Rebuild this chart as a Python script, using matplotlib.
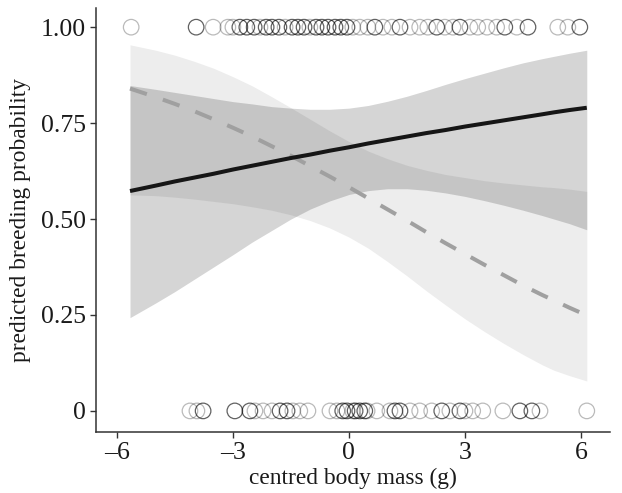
import matplotlib
matplotlib.use("Agg")
import matplotlib.pyplot as plt

# ---- data ----
grid_x = [-5.66, -5.0, -4.5, -4.0, -3.5, -3.0, -2.5, -2.0, -1.5, -1.0, -0.5, 0.0, 0.5,
          1.0, 1.5, 2.0, 2.5, 3.0, 3.5, 4.0, 4.5, 5.0, 5.3, 5.7, 6.15]

solid_fit = [0.573, 0.587, 0.598, 0.608, 0.618, 0.629, 0.639, 0.649, 0.659, 0.668, 0.678, 0.687, 0.697,
             0.706, 0.715, 0.724, 0.732, 0.741, 0.749, 0.757, 0.765, 0.773, 0.778, 0.784, 0.790]
solid_lo = [0.243, 0.281, 0.311, 0.343, 0.375, 0.407, 0.440, 0.470, 0.500, 0.526, 0.547, 0.564, 0.574,
            0.579, 0.579, 0.575, 0.568, 0.559, 0.548, 0.536, 0.523, 0.509, 0.500, 0.488, 0.472]
solid_hi = [0.848, 0.838, 0.830, 0.822, 0.814, 0.806, 0.800, 0.793, 0.789, 0.786, 0.786, 0.789, 0.796,
            0.807, 0.820, 0.835, 0.851, 0.866, 0.880, 0.894, 0.907, 0.918, 0.924, 0.932, 0.940]

dashed_fit = [0.840, 0.818, 0.800, 0.781, 0.760, 0.738, 0.715, 0.690, 0.665, 0.638, 0.611, 0.583, 0.554,
              0.525, 0.496, 0.466, 0.437, 0.409, 0.381, 0.354, 0.327, 0.302, 0.288, 0.269, 0.249]
dashed_lo = [0.563, 0.561, 0.557, 0.552, 0.546, 0.540, 0.532, 0.523, 0.511, 0.496, 0.477, 0.453, 0.424,
             0.389, 0.352, 0.313, 0.276, 0.240, 0.207, 0.176, 0.147, 0.120, 0.106, 0.092, 0.078]
dashed_hi = [0.954, 0.940, 0.927, 0.911, 0.893, 0.871, 0.847, 0.819, 0.790, 0.760, 0.730, 0.702, 0.677,
             0.657, 0.640, 0.627, 0.616, 0.608, 0.600, 0.594, 0.589, 0.584, 0.582, 0.578, 0.572]

top_dark = [-3.95, -2.82, -2.64, -2.45, -2.14, -1.99, -1.81, -1.47, -1.32, -1.16, -0.85, -0.70,
            -0.54, -0.36, -0.21, -0.05, 0.67, 1.32, 2.27, 2.87, 4.03, 4.63, 5.97]
top_light = [-5.63, -3.51, -3.13, -3.00, -2.30, -1.65, -1.01, 0.10, 0.28, 0.49, 0.88, 1.11,
             1.58, 1.83, 2.04, 2.48, 2.69, 3.13, 3.33, 3.57, 3.82, 4.34, 5.40, 5.66]
bot_dark = [-3.77, -2.95, -2.56, -1.78, -1.60, -0.16, -0.05, 0.16, 0.28, 0.41, 1.19, 1.32,
            2.40, 2.87, 4.42, 4.73]
bot_light = [-4.11, -3.93, -2.43, -2.22, -1.99, -1.45, -1.27, -1.06, -0.49, -0.31, 0.10, 0.47,
             0.72, 1.06, 1.58, 1.83, 2.14, 2.61, 3.00, 3.20, 3.46, 3.98, 4.94, 6.15]

x_ticks = [-6, -3, 0, 3, 6]
x_ticklabels = ["\u20136", "\u20133", "0", "3", "6"]
y_ticks = [0, 0.25, 0.5, 0.75, 1.0]
y_ticklabels = ["0", "0.25", "0.50", "0.75", "1.00"]

plt.rcParams['font.family'] = ['Liberation Serif', 'DejaVu Serif']

fig = plt.figure(figsize=(6.22, 4.93), dpi=100)
ax = fig.add_axes([0.1543, 0.1237, 0.9807 - 0.1543, 0.9838 - 0.1237])

# bands
ax.fill_between(grid_x, dashed_lo, dashed_hi, color='#ededed', lw=0, zorder=1)
ax.fill_between(grid_x, solid_lo, solid_hi, color='black', alpha=0.165, lw=0, zorder=2)

# lines
ax.plot(grid_x, solid_fit, color='#161616', lw=2.9, solid_capstyle='butt', zorder=4)
ax.plot(grid_x, dashed_fit, color='#a0a0a0', lw=2.9, dashes=(4.4, 4.2),
        dash_capstyle='butt', zorder=3)

# points
ms = 125
ax.scatter(top_light, [1.0] * len(top_light), s=ms, facecolors='none',
           edgecolors=(0, 0, 0, 0.27), linewidths=0.9, zorder=5)
ax.scatter(top_dark, [1.0] * len(top_dark), s=ms, facecolors='none',
           edgecolors=(0, 0, 0, 0.62), linewidths=0.9, zorder=5)
ax.scatter(bot_light, [0.0] * len(bot_light), s=ms, facecolors='none',
           edgecolors=(0, 0, 0, 0.27), linewidths=0.9, zorder=5)
ax.scatter(bot_dark, [0.0] * len(bot_dark), s=ms, facecolors='none',
           edgecolors=(0, 0, 0, 0.62), linewidths=0.9, zorder=5)

ax.set_xlim(-6.54, 6.75)
ax.set_ylim(-0.055, 1.05)
ax.set_xticks(x_ticks)
ax.set_xticklabels(x_ticklabels)
ax.set_yticks(y_ticks)
ax.set_yticklabels(y_ticklabels)

for s in ['top', 'right']:
    ax.spines[s].set_visible(False)
for s in ['left', 'bottom']:
    ax.spines[s].set_color('#333333')
    ax.spines[s].set_linewidth(1.1)
ax.tick_params(axis='both', direction='out', length=4, width=1.0, color='#333333',
               labelsize=18.5, labelcolor='#1a1a1a', pad=3)

ax.set_xlabel("centred body mass (g)", fontsize=16.8, color='#1a1a1a', labelpad=3)
ax.set_ylabel("predicted breeding probability", fontsize=16.8, color='#1a1a1a', labelpad=7)

fig.savefig("out.png", dpi=100)
